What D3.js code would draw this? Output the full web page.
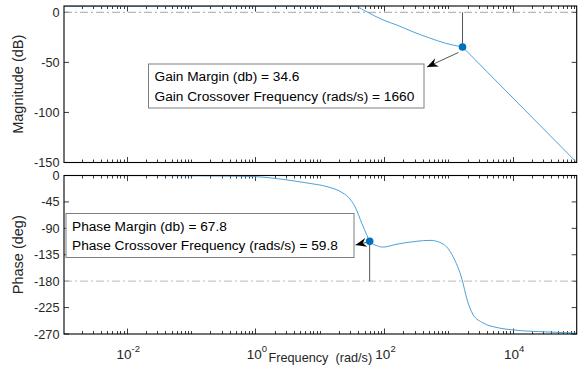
<!DOCTYPE html>
<html>
<head>
<meta charset="utf-8">
<script src="https://cdn.jsdelivr.net/npm/d3@7"></script>
<style>
  body { margin: 0; background: #fff; }
  svg { display: block; }
  text { font-family: "Liberation Sans", Arial, Helvetica, sans-serif; }
</style>
</head>
<body>
<svg id="chart" width="588" height="369"></svg>
<script>
// Bode magnitude: frequency (rad/s) and gain (dB); the roll-off past the crossover is a straight segment
const magFreq = [0.00106, 0.01, 0.1, 1, 10, 25, 35.5, 41.7, 47.9, 56.2, 70.8, 100, 158, 282, 513, 891, 1660];
const magDb   = [6.2, 6.2, 6.2, 6.2, 6.2, 6.2, 6.1, 4.5, 2.2, 0, -3.5, -8, -12.7, -19.5, -25.7, -30.8, -34.6];
const rollOffFreq = [1660, 99000];
const rollOffDb   = [-34.6, -150];

// Bode phase: frequency (rad/s) and phase (deg)
const phaseFreq = [0.00106, 0.023, 0.138, 0.403, 0.918, 1.88, 3.85, 7.06, 13.0, 23.0, 29.6, 35.3, 45.4, 54.3, 59.8, 76.9, 95.3, 159, 325, 518, 826, 1180, 1630, 1950, 2420, 3450, 5700, 10100, 34100, 99000];
const phaseDeg  = [0, -0.2, -0.5, -1, -1.7, -4.5, -9, -13.5, -19, -30, -40, -53, -82, -102, -112.2, -119.5, -122, -117, -112, -110.5, -116.6, -138, -177, -211, -237, -251, -259, -263, -266.5, -268.5];

// Axis ticks
const magTicks = [0, -50, -100, -150];
const phaseTicks = [0, -45, -90, -135, -180, -225, -270];
const labelledDecades = [-2, 0, 2, 4];

// Stability margins
const gainMarginDb = 34.6;
const gainCrossFreq = 1660;
const phaseMarginDeg = 67.8;
const phaseCrossFreq = 59.8;
const gainLines = ["Gain Margin (db) = 34.6", "Gain Crossover Frequency (rads/s) = 1660"];
const phaseLines = ["Phase Margin (db) = 67.8", "Phase Crossover Frequency (rads/s) = 59.8"];

const svg = d3.select("#chart");
const left = 64, right = 576.7;
const magBox = { top: 6, bottom: 162.5 };
const phBox = { top: 175.5, bottom: 334 };
const curveColor = "#4da0dc";
const markColor = "#0072BD";
const tickColor = "#262626";

const x = d3.scaleLog().domain([Math.pow(10, -2.975), Math.pow(10, 4.995)]).range([left, right]);
const yMag = d3.scaleLinear().domain([-150, 6.3]).range([magBox.bottom, magBox.top]);
const yPh = d3.scaleLinear().domain([-270, 0]).range([phBox.bottom, phBox.top]);

// minor / major log ticks
const logTicks = [];
for (let k = -3; k <= 4; k++) {
  for (let m = 1; m <= 9; m++) {
    const v = m * Math.pow(10, k);
    if (v < x.domain()[0] * 0.999 || v > x.domain()[1]) continue;
    logTicks.push({ v, major: m === 1 && labelledDecades.includes(k) });
  }
}

function panel(box, y, yTicks, clipId) {
  const g = svg.append("g");
  g.append("clipPath").attr("id", clipId).append("rect")
    .attr("x", left).attr("y", box.top).attr("width", right - left).attr("height", box.bottom - box.top);
  // x ticks, inward on bottom and top
  logTicks.forEach(t => {
    const xx = Math.round(x(t.v)) + 0.5;
    const len = t.major ? 5.5 : 3;
    g.append("line").attr("x1", xx).attr("x2", xx).attr("y1", box.bottom).attr("y2", box.bottom - len)
      .attr("stroke", tickColor).attr("stroke-width", 0.9);
    g.append("line").attr("x1", xx).attr("x2", xx).attr("y1", box.top).attr("y2", box.top + len)
      .attr("stroke", tickColor).attr("stroke-width", 0.9);
  });
  // y ticks on both sides + labels
  yTicks.forEach(v => {
    const yy = y(v);
    g.append("line").attr("x1", left).attr("x2", left + 5).attr("y1", yy).attr("y2", yy)
      .attr("stroke", tickColor).attr("stroke-width", 0.9);
    g.append("line").attr("x1", right).attr("x2", right - 5).attr("y1", yy).attr("y2", yy)
      .attr("stroke", tickColor).attr("stroke-width", 0.9);
    g.append("text").attr("x", left - 4.5).attr("y", yy + 4.5).attr("text-anchor", "end")
      .attr("font-size", 12.7).attr("fill", tickColor).text(v);
  });
  return g;
}

const gMag = panel(magBox, yMag, magTicks, "clipMag");
const gPh = panel(phBox, yPh, phaseTicks, "clipPh");

// reference lines
gMag.append("line").attr("x1", left).attr("x2", right).attr("y1", yMag(0)).attr("y2", yMag(0))
  .attr("stroke", "#a6a6a6").attr("stroke-width", 1).attr("stroke-dasharray", "8,3,2,3");
gPh.append("line").attr("x1", left).attr("x2", right).attr("y1", yPh(-180)).attr("y2", yPh(-180))
  .attr("stroke", "#c8c8c8").attr("stroke-width", 1.3).attr("stroke-dasharray", "8,3,2,3");

// curves
const magLine = d3.line().x(d => x(d[0])).y(d => yMag(d[1])).curve(d3.curveMonotoneX);
const rollLine = d3.line().x(d => x(d[0])).y(d => yMag(d[1]));
const phLine = d3.line().x(d => x(d[0])).y(d => yPh(d[1])).curve(d3.curveMonotoneX);
const magPath = magLine(d3.zip(magFreq, magDb)) + "L" + rollLine(d3.zip(rollOffFreq, rollOffDb)).slice(1);
gMag.append("path").attr("d", magPath)
  .attr("fill", "none").attr("stroke", curveColor).attr("stroke-width", 1).attr("clip-path", "url(#clipMag)");
gPh.append("path").datum(d3.zip(phaseFreq, phaseDeg)).attr("d", phLine)
  .attr("fill", "none").attr("stroke", curveColor).attr("stroke-width", 1).attr("clip-path", "url(#clipPh)");

// frames
[magBox, phBox].forEach(b => {
  svg.append("rect").attr("x", left).attr("y", b.top).attr("width", right - left).attr("height", b.bottom - b.top)
    .attr("fill", "none").attr("stroke", "#000").attr("stroke-width", 1.1);
});

// arrowhead drawn at tip pointing along direction from (sx,sy)
function arrow(g, sx, sy, tx, ty) {
  g.append("line").attr("x1", sx).attr("y1", sy).attr("x2", tx).attr("y2", ty)
    .attr("stroke", "#555").attr("stroke-width", 1);
  const a = Math.atan2(ty - sy, tx - sx);
  const L = 11, W = 4.5, N = 7.5;
  const ux = Math.cos(a), uy = Math.sin(a);
  const px = -uy, py = ux;
  const p = [
    [tx, ty],
    [tx - L * ux + W * px, ty - L * uy + W * py],
    [tx - N * ux, ty - N * uy],
    [tx - L * ux - W * px, ty - L * uy - W * py]
  ];
  g.append("path").attr("d", "M" + p.map(q => q.join(",")).join("L") + "Z").attr("fill", "#000");
}

function textBox(g, bx, by, bw, bh, lines) {
  g.append("rect").attr("x", bx).attr("y", by).attr("width", bw).attr("height", bh)
    .attr("fill", "#fff").attr("stroke", "#7f7f7f").attr("stroke-width", 1);
  lines.forEach((s, i) => {
    g.append("text").attr("x", bx + 6).attr("y", by + 17 + i * 19.5)
      .attr("font-size", 13.7).attr("fill", "#000").text(s);
  });
}

// gain margin annotation
const gmx = x(gainCrossFreq), gmy = yMag(-gainMarginDb);
gMag.append("line").attr("x1", gmx).attr("x2", gmx).attr("y1", gmy).attr("y2", yMag(0))
  .attr("stroke", "#555").attr("stroke-width", 1);
textBox(gMag, 148.5, 64, 275.5, 44, gainLines);
arrow(gMag, gmx - 4, gmy + 5.5, 427, 67);
gMag.append("circle").attr("cx", gmx).attr("cy", gmy).attr("r", 3.8).attr("fill", markColor);

// phase margin annotation
const pmx = x(phaseCrossFreq), pmy = yPh(-180 + phaseMarginDeg);
gPh.append("line").attr("x1", pmx).attr("x2", pmx).attr("y1", pmy).attr("y2", yPh(-180))
  .attr("stroke", "#555").attr("stroke-width", 1);
textBox(gPh, 66, 213.5, 288, 44, phaseLines);
arrow(gPh, pmx - 3, pmy + 1, 355.5, 245);
gPh.append("circle").attr("cx", pmx).attr("cy", pmy).attr("r", 3.8).attr("fill", markColor);

// x tick labels (powers of ten)
labelledDecades.forEach(k => {
  const t = svg.append("text").attr("x", x(Math.pow(10, k)) + 1.5).attr("y", 359)
    .attr("text-anchor", "middle").attr("font-size", 13.5).attr("fill", tickColor);
  t.append("tspan").text("10");
  t.append("tspan").attr("font-size", 9.5).attr("dy", -7).text(String(k));
});

// axis titles
svg.append("text").attr("x", (left + right) / 2).attr("y", 362).attr("text-anchor", "middle")
  .attr("font-size", 12.7).attr("fill", tickColor).style("white-space", "pre")
  .text("Frequency  (rad/s)");
svg.append("text").attr("transform", `translate(23,${(magBox.top + magBox.bottom) / 2}) rotate(-90)`)
  .attr("text-anchor", "middle").attr("font-size", 14.5).attr("fill", tickColor).text("Magnitude (dB)");
svg.append("text").attr("transform", `translate(23,${(phBox.top + phBox.bottom) / 2}) rotate(-90)`)
  .attr("text-anchor", "middle").attr("font-size", 14.5).attr("fill", tickColor).text("Phase (deg)");
</script>
</body>
</html>
